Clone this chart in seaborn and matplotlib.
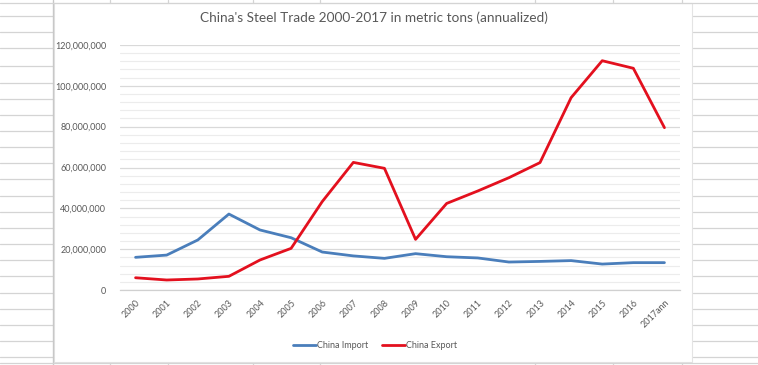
import matplotlib
matplotlib.use("Agg")
import matplotlib.pyplot as plt
from matplotlib.lines import Line2D
from matplotlib.ticker import MultipleLocator, FuncFormatter
import seaborn as sns
import pandas as pd

years = ["2000", "2001", "2002", "2003", "2004", "2005", "2006", "2007", "2008",
         "2009", "2010", "2011", "2012", "2013", "2014", "2015", "2016", "2017ann"]
china_import = [16.0, 17.1, 24.5, 37.2, 29.4, 25.6, 18.6, 16.7, 15.5,
                17.8, 16.3, 15.7, 13.7, 14.0, 14.4, 12.7, 13.4, 13.4]
china_export = [6.0, 4.9, 5.4, 6.7, 14.7, 20.4, 43.3, 62.5, 59.6,
                24.8, 42.4, 48.5, 55.0, 62.4, 94.2, 112.3, 108.6, 79.5]
series_names = ["China Import", "China Export"]
title = "China's Steel Trade 2000-2017 in metric tons (annualized)"

df = pd.DataFrame({
    "year": years * 2,
    "value": [v * 1e6 for v in china_import] + [v * 1e6 for v in china_export],
    "series": [series_names[0]] * len(years) + [series_names[1]] * len(years),
})

sns.set_theme(style="white")
plt.rcParams["font.family"] = ["Lato", "DejaVu Sans"]

fig = plt.figure(figsize=(7.58, 3.65), dpi=100)
fig.patch.set_facecolor("white")

# spreadsheet background grid (outside the chart area)
W, H = 758, 365
gc = "#d4d4d4"
for yy in [16, 32, 48, 66, 83, 99, 115, 131, 147, 163, 179, 196, 212, 228, 244, 260, 276, 293, 309, 325, 341, 357]:
    fig.add_artist(Line2D([0, 53 / W], [1 - yy / H] * 2, color=gc, lw=0.9))
    fig.add_artist(Line2D([693 / W, 1], [1 - yy / H] * 2, color=gc, lw=0.9))
fig.add_artist(Line2D([53 / W] * 2, [0, 1], color="#c8c8c8", lw=1.0))
for xx in [110, 168, 253, 320, 535, 613, 682]:
    fig.add_artist(Line2D([xx / W] * 2, [1 - 3 / H, 1], color=gc, lw=0.9))
    fig.add_artist(Line2D([xx / W] * 2, [0, 2 / H], color=gc, lw=0.9))
fig.add_artist(Line2D([0, 1], [1 - 2.5 / H] * 2, color=gc, lw=0.9))
fig.add_artist(Line2D([0, 1], [2 / H] * 2, color=gc, lw=0.9))
# chart area box
fig.add_artist(plt.Rectangle((54 / W, 3 / H), (692 - 54) / W, (362 - 3) / H,
                             transform=fig.transFigure, facecolor="white",
                             edgecolor="#e4e4e4", lw=0.8, zorder=0.5))

ax = fig.add_axes([120 / W, 75 / H, (680 - 120) / W, (290 - 45) / H])
ax.set_facecolor("none")
ax.set_zorder(2)

sns.lineplot(data=df, x="year", y="value", hue="series", ax=ax,
             palette={"China Import": "#4A7EBB", "China Export": "#E3101E"},
             linewidth=2.0, legend=False, sort=False)

ax.set_xlim(-0.5, len(years) - 0.5)
ax.set_ylim(0, 120e6)
ax.yaxis.set_major_locator(MultipleLocator(20e6))
ax.yaxis.set_minor_locator(MultipleLocator(4e6))
ax.yaxis.set_major_formatter(FuncFormatter(lambda v, p: f"{int(v):,}"))
ax.grid(axis="y", which="major", color="#d9d9d9", lw=0.9)
ax.grid(axis="y", which="minor", color="#ececec", lw=0.8)
ax.set_axisbelow(True)
for s in ["top", "right", "left"]:
    ax.spines[s].set_visible(False)
ax.spines["bottom"].set_color("#d0d0d0")
ax.spines["bottom"].set_linewidth(0.9)
ax.tick_params(axis="both", which="both", length=0, colors="#595959", labelsize=6.5)
ax.tick_params(axis="y", pad=10)
ax.set_xticks(range(len(years)))
ax.set_xticklabels(years, rotation=45, ha="right", va="top", rotation_mode="anchor")
ax.tick_params(axis="x", pad=6)
ax.set_xlabel("")
ax.set_ylabel("")

fig.text(374 / W, 1 - 18 / H, title, ha="center", va="center", fontsize=9.8, color="#595959")

handles = [Line2D([0], [0], color="#4A7EBB", lw=2.0), Line2D([0], [0], color="#E3101E", lw=2.0)]
fig.legend(handles, series_names, loc="center", bbox_to_anchor=(375 / W, 1 - 346 / H),
           ncol=2, frameon=False, fontsize=6.5, labelcolor="#595959",
           handlelength=2.6, handletextpad=0.1, columnspacing=1.5)

fig.savefig("out.png", dpi=100)
